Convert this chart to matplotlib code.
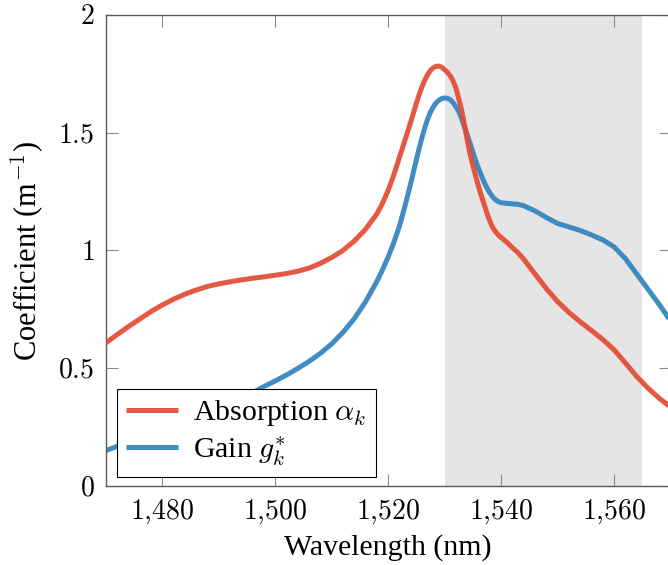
import matplotlib
matplotlib.use("Agg")
import matplotlib.pyplot as plt
from matplotlib.ticker import FuncFormatter

plt.rcParams['mathtext.fontset'] = 'cm'
plt.rcParams['font.family'] = ['Liberation Serif', 'DejaVu Serif']

# Absorption alpha_k
wl_abs = [1470, 1472, 1474, 1476, 1478, 1480, 1482, 1484, 1486, 1488, 1490, 1492, 1494,
          1496, 1498, 1500, 1502, 1504, 1506, 1508, 1510, 1512, 1514, 1516, 1518, 1519,
          1520, 1521, 1522, 1523, 1524, 1524.5, 1525, 1525.5, 1526, 1526.5, 1527, 1527.5,
          1528, 1528.5, 1529, 1529.5, 1530, 1530.5, 1531, 1531.5, 1532, 1532.5, 1533,
          1533.5, 1534, 1534.5, 1535, 1535.5, 1536, 1536.5, 1537, 1537.5, 1538, 1538.5,
          1539, 1539.5, 1540, 1541, 1542, 1543, 1544, 1546, 1548, 1550, 1552, 1554, 1556,
          1558, 1560, 1562, 1564, 1566, 1568, 1570]
absorption = [0.607, 0.642, 0.676, 0.708, 0.74, 0.768, 0.793, 0.814, 0.832, 0.847, 0.858,
              0.867, 0.875, 0.882, 0.888, 0.895, 0.902, 0.912, 0.925, 0.945, 0.97, 1.0,
              1.04, 1.09, 1.155, 1.2, 1.255, 1.32, 1.395, 1.47, 1.545, 1.585, 1.625, 1.662,
              1.695, 1.724, 1.747, 1.765, 1.776, 1.782, 1.783, 1.778, 1.768, 1.756, 1.742,
              1.72, 1.69, 1.645, 1.597, 1.535, 1.47, 1.41, 1.36, 1.315, 1.272, 1.232, 1.195,
              1.158, 1.125, 1.098, 1.08, 1.066, 1.055, 1.035, 1.012, 0.99, 0.963, 0.9,
              0.838, 0.783, 0.737, 0.697, 0.66, 0.622, 0.578, 0.522, 0.465, 0.415, 0.372,
              0.335]

# Gain g_k^*
wl_gain = [1470, 1472, 1474, 1476, 1478, 1480, 1482, 1484, 1486, 1488, 1490, 1492, 1494,
           1496, 1498, 1500, 1502, 1504, 1506, 1508, 1510, 1512, 1514, 1516, 1518, 1519,
           1520, 1521, 1522, 1523, 1524, 1525, 1525.5, 1526, 1526.5, 1527, 1527.5, 1528,
           1528.5, 1529, 1529.5, 1530, 1530.5, 1531, 1531.5, 1532, 1532.5, 1533, 1533.5,
           1534, 1534.5, 1535, 1535.5, 1536, 1536.5, 1537, 1537.5, 1538, 1538.5, 1539,
           1539.5, 1540, 1541, 1542, 1543, 1544, 1546, 1548, 1550, 1552, 1554, 1556, 1558,
           1560, 1562, 1564, 1566, 1568, 1570]
gain = [0.15, 0.168, 0.184, 0.2, 0.215, 0.231, 0.248, 0.265, 0.283, 0.301, 0.321, 0.344,
        0.369, 0.396, 0.422, 0.446, 0.471, 0.499, 0.529, 0.563, 0.603, 0.652, 0.71, 0.782,
        0.868, 0.918, 0.972, 1.033, 1.103, 1.19, 1.285, 1.385, 1.435, 1.48, 1.522, 1.558,
        1.588, 1.61, 1.627, 1.638, 1.645, 1.648, 1.646, 1.64, 1.628, 1.61, 1.59, 1.56,
        1.525, 1.49, 1.455, 1.418, 1.38, 1.348, 1.318, 1.29, 1.265, 1.245, 1.228, 1.215,
        1.208, 1.203, 1.2, 1.198, 1.196, 1.19, 1.168, 1.14, 1.115, 1.1, 1.085, 1.066,
        1.045, 1.015, 0.965, 0.9, 0.835, 0.77, 0.70]

band = (1530, 1565)
xticks = [1480, 1500, 1520, 1540, 1560]
yticks = [0, 0.5, 1, 1.5, 2]

fig = plt.figure(figsize=(6.68, 5.65), dpi=100)
ax = fig.add_axes([0.158, 0.1398, 0.846, 0.8337])

ax.axvspan(band[0], band[1], color='#e5e5e5', lw=0, zorder=0)
ax.plot(wl_abs, absorption, color='#e34a33', lw=3.6, alpha=0.92,
        solid_capstyle='butt', solid_joinstyle='round',
        label=r'Absorption $\alpha_k$', zorder=3)
ax.plot(wl_gain, gain, color='#3182bd', lw=3.6, alpha=0.92,
        solid_capstyle='butt', solid_joinstyle='round',
        label=r'Gain $g_k^{*}$', zorder=2)

ax.set_xlim(1470, 1570)
ax.set_ylim(0, 2)
ax.set_xticks(xticks)
ax.set_yticks(yticks)

def xfmt(v, p):
    s = f"{int(round(v)):,}".replace(",", "{,}")
    return f"${s}$"

def yfmt(v, p):
    if abs(v - round(v)) < 1e-9:
        return f"${int(round(v))}$"
    return f"${v:g}$"

ax.xaxis.set_major_formatter(FuncFormatter(xfmt))
ax.yaxis.set_major_formatter(FuncFormatter(yfmt))
ax.tick_params(direction='in', length=8.6, width=0.8, color='#8c8c8c',
               top=True, right=True, labelsize=20, pad=8)
for s in ax.spines.values():
    s.set_color('#5a5a5a')
    s.set_linewidth(1.0)

ax.set_xlabel('Wavelength (nm)', fontsize=21.5, labelpad=6)
ax.set_ylabel(r'Coefficient (m$^{-1}$)', fontsize=22, labelpad=9)

leg = ax.legend(loc='lower left', bbox_to_anchor=(0.02, 0.02), fontsize=21.5,
                frameon=True, fancybox=False, edgecolor='black', framealpha=1,
                handlelength=1.75, borderpad=0.3, labelspacing=0.2, handletextpad=0.5,
                borderaxespad=0)
leg.get_frame().set_linewidth(0.8)

fig.savefig('out.png', dpi=100)
